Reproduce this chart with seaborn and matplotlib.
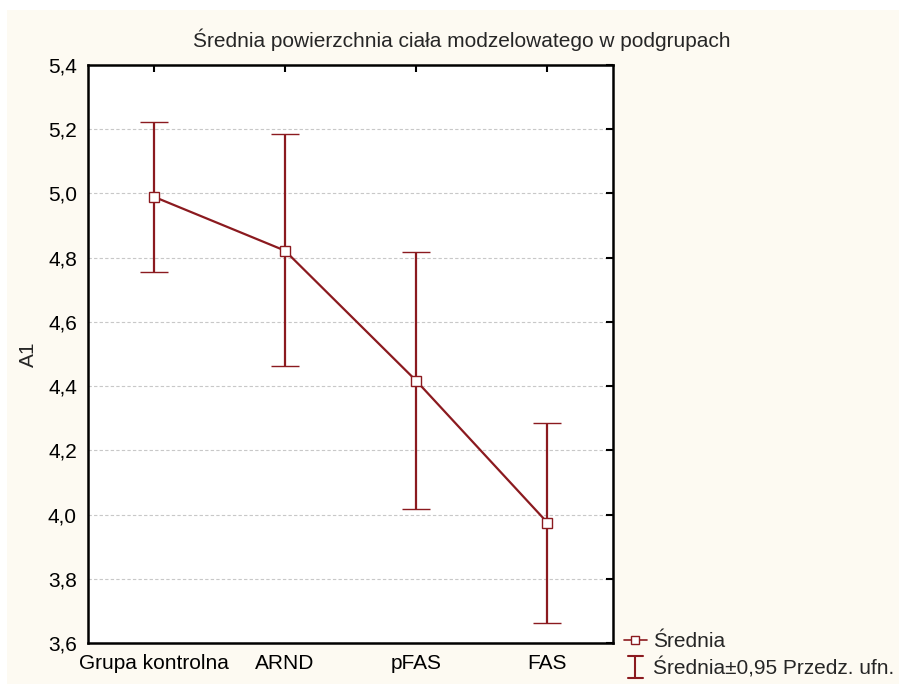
import matplotlib
matplotlib.use('Agg')
import matplotlib.pyplot as plt
import seaborn as sns
import pandas as pd
from matplotlib.patches import Rectangle
from matplotlib.lines import Line2D
from matplotlib.legend_handler import HandlerBase

# dane
grupy = ['Grupa kontrolna', 'ARND', 'pFAS', 'FAS']
srednia = [4.99, 4.822, 4.417, 3.975]
ci_gora = [5.222, 5.184, 4.819, 4.284]
ci_dol = [4.756, 4.462, 4.016, 3.663]
y_ticks = [3.6, 3.8, 4.0, 4.2, 4.4, 4.6, 4.8, 5.0, 5.2, 5.4]

KOLOR = '#8B1A1F'
KREM = '#FDFAF2'
FS = 15


class HandlerI(HandlerBase):
    # symbol "I" dla przedzialu ufnosci w legendzie
    def create_artists(self, legend, orig_handle, xdescent, ydescent, width, height, fontsize, trans):
        cx = width / 2 - xdescent
        cy = height / 2 - ydescent
        h = 0.55 * fontsize
        w = 0.35 * fontsize
        linie = [
            Line2D([cx, cx], [cy - h, cy + h]),
            Line2D([cx - w, cx + w], [cy + h, cy + h]),
            Line2D([cx - w, cx + w], [cy - h, cy - h]),
        ]
        for ln in linie:
            ln.set_color(KOLOR)
            ln.set_linewidth(1.5)
            ln.set_transform(trans)
        return linie


sns.set_style('white')
plt.rcParams['font.family'] = ['Liberation Sans', 'DejaVu Sans']

df = pd.DataFrame({'grupa': grupy, 'srednia': srednia})

fig = plt.figure(figsize=(8.99, 6.84), dpi=100)
fig.patches.append(Rectangle((7 / 899, -0.01), 1.1, 1.01 - 10 / 684, transform=fig.transFigure,
                             facecolor=KREM, edgecolor='none', zorder=-10))
ax = fig.add_axes([88 / 899, 1 - 643 / 684, (613 - 88) / 899, (643 - 65) / 684])
ax.set_facecolor('white')

# przedzialy ufnosci
yerr = [[m - d for m, d in zip(srednia, ci_dol)], [g - m for m, g in zip(srednia, ci_gora)]]
eb = ax.errorbar(range(len(grupy)), srednia, yerr=yerr, fmt='none', ecolor=KOLOR,
                 elinewidth=1.6, capsize=10, capthick=1.6, zorder=3)

# srednie
sns.pointplot(data=df, x='grupa', y='srednia', color=KOLOR, errorbar=None, ax=ax,
              markers='s', linewidth=1.6, markersize=6.5, zorder=4)
for ln in ax.lines:
    ln.set_markerfacecolor('white')
    ln.set_markeredgecolor(KOLOR)
    ln.set_markeredgewidth(1.0)

ax.set_xlim(-0.5, 3.5)
ax.set_ylim(3.6, 5.4)
ax.set_yticks(y_ticks)
ax.set_yticklabels([f'{v:.1f}'.replace('.', ',') for v in y_ticks])
ax.set_xlabel('')
ax.set_ylabel('A1', fontsize=FS)
ax.yaxis.set_label_coords(-0.095, 0.5)
ax.yaxis.grid(True, linestyle=(0, (3, 2)), color='#C8C8C8', linewidth=0.8)
ax.set_axisbelow(True)
for s in ax.spines.values():
    s.set_visible(True)
    s.set_color('black')
    s.set_linewidth(1.8)
ax.tick_params(axis='both', direction='in', length=5, width=1.5, top=True, right=True,
               labelsize=FS, colors='black', pad=8)

fig.text(462 / 899, 1 - 40 / 684, 'Średnia powierzchnia ciała modzelowatego w podgrupach',
         ha='center', va='center', fontsize=FS)

h1 = Line2D([], [], color=KOLOR, marker='s', markerfacecolor='white', markeredgecolor=KOLOR,
            markersize=6, markeredgewidth=1.0, linewidth=1.2)
h2 = Line2D([], [], color=KOLOR)
fig.legend([h1, h2], ['Średnia', 'Średnia±0,95 Przedz. ufn.'], loc='upper left',
           bbox_to_anchor=(624 / 899, 1 - 632 / 684), frameon=False, fontsize=FS,
           handlelength=1.1, handletextpad=0.3, labelspacing=0.3, borderaxespad=0.0,
           borderpad=0.0, handler_map={h2: HandlerI()})

fig.savefig('out.png', dpi=100)
